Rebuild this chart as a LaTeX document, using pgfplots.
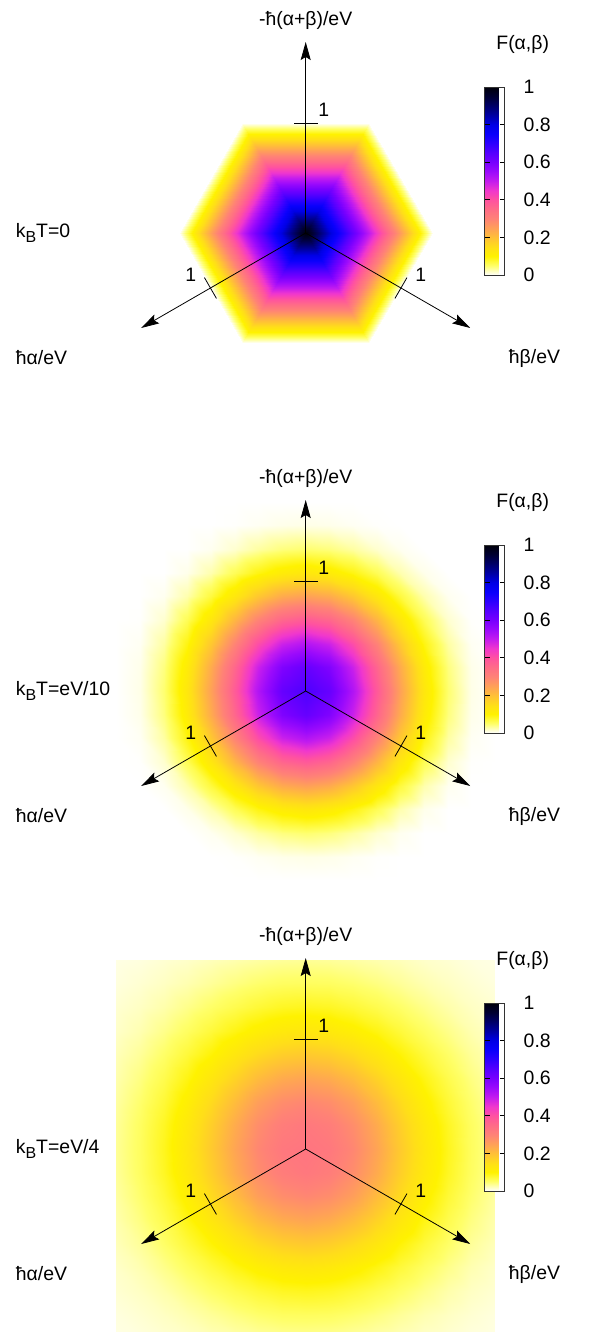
\documentclass[border=0pt]{standalone}
\usepackage{fontspec}
\setmainfont{Liberation Sans}
\usepackage{pgfplots}
\pgfplotsset{compat=1.18}
\usepackage{pgfplotstable}
\usetikzlibrary{arrows.meta}

\pgfplotsset{colormap={fab}{
rgb255=(255,255,255)
rgb255=(255,255,105)
rgb255=(255,242,0)
rgb255=(255,222,25)
rgb255=(255,192,55)
rgb255=(255,160,88)
rgb255=(255,130,118)
rgb255=(255,108,135)
rgb255=(255,82,160)
rgb255=(240,55,205)
rgb255=(195,28,238)
rgb255=(155,10,252)
rgb255=(120,0,255)
rgb255=(85,0,255)
rgb255=(45,0,255)
rgb255=(10,0,252)
rgb255=(0,0,230)
rgb255=(0,0,165)
rgb255=(0,0,105)
rgb255=(0,0,50)
rgb255=(0,0,10)
}}

% grid in units of 0.215 eV; f2: k_BT=eV/10, f3: k_BT=eV/4
\pgfplotstableread{
i j f2 f3
-8 -8 0 0.009
-7 -8 0 0.011
-6 -8 0 0.015
-5 -8 0 0.018
-4 -8 0 0.023
-3 -8 0 0.027
-2 -8 0 0.031
-1 -8 0 0.034
0 -8 0 0.035
1 -8 0 0.034
2 -8 0 0.031
3 -8 0 0.027
4 -8 0 0.023
5 -8 0 0.018
6 -8 0 0.015
7 -8 0 0.011
8 -8 0 0.009
-8 -7 0 0.011
-7 -7 0 0.015
-6 -7 0 0.020
-5 -7 0 0.026
-4 -7 0 0.034
-3 -7 0.001 0.042
-2 -7 0.004 0.049
-1 -7 0.007 0.054
0 -7 0.008 0.055
1 -7 0.007 0.054
2 -7 0.004 0.049
3 -7 0.001 0.042
4 -7 0 0.034
5 -7 0 0.026
6 -7 0 0.020
7 -7 0 0.015
8 -7 0 0.011
-8 -6 0 0.015
-7 -6 0 0.020
-6 -6 0 0.028
-5 -6 0 0.039
-4 -6 0.005 0.051
-3 -6 0.016 0.063
-2 -6 0.031 0.074
-1 -6 0.043 0.083
0 -6 0.048 0.086
1 -6 0.043 0.083
2 -6 0.031 0.074
3 -6 0.016 0.063
4 -6 0.005 0.051
5 -6 0 0.039
6 -6 0 0.028
7 -6 0 0.020
8 -6 0 0.015
-8 -5 0 0.018
-7 -5 0 0.026
-6 -5 0 0.039
-5 -5 0.007 0.054
-4 -5 0.027 0.072
-3 -5 0.059 0.091
-2 -5 0.092 0.109
-1 -5 0.117 0.123
0 -5 0.128 0.128
1 -5 0.117 0.123
2 -5 0.092 0.109
3 -5 0.059 0.091
4 -5 0.027 0.072
5 -5 0.007 0.054
6 -5 0 0.039
7 -5 0 0.026
8 -5 0 0.018
-8 -4 0 0.023
-7 -4 0 0.034
-6 -4 0.005 0.051
-5 -4 0.027 0.072
-4 -4 0.070 0.097
-3 -4 0.128 0.128
-2 -4 0.188 0.156
-1 -4 0.233 0.176
0 -4 0.249 0.184
1 -4 0.233 0.176
2 -4 0.188 0.156
3 -4 0.128 0.128
4 -4 0.070 0.097
5 -4 0.027 0.072
6 -4 0.005 0.051
7 -4 0 0.034
8 -4 0 0.023
-8 -3 0 0.027
-7 -3 0.001 0.042
-6 -3 0.016 0.063
-5 -3 0.059 0.091
-4 -3 0.128 0.128
-3 -3 0.218 0.169
-2 -3 0.301 0.207
-1 -3 0.363 0.233
0 -3 0.386 0.243
1 -3 0.363 0.233
2 -3 0.301 0.207
3 -3 0.218 0.169
4 -3 0.128 0.128
5 -3 0.059 0.091
6 -3 0.016 0.063
7 -3 0.001 0.042
8 -3 0 0.027
-8 -2 0 0.031
-7 -2 0.004 0.049
-6 -2 0.031 0.074
-5 -2 0.092 0.109
-4 -2 0.188 0.156
-3 -2 0.301 0.207
-2 -2 0.410 0.253
-1 -2 0.491 0.282
0 -2 0.522 0.293
1 -2 0.491 0.282
2 -2 0.410 0.253
3 -2 0.301 0.207
4 -2 0.188 0.156
5 -2 0.092 0.109
6 -2 0.031 0.074
7 -2 0.004 0.049
8 -2 0 0.031
-8 -1 0 0.034
-7 -1 0.007 0.054
-6 -1 0.043 0.083
-5 -1 0.117 0.123
-4 -1 0.233 0.176
-3 -1 0.363 0.233
-2 -1 0.491 0.282
-1 -1 0.588 0.312
0 -1 0.626 0.323
1 -1 0.588 0.312
2 -1 0.491 0.282
3 -1 0.363 0.233
4 -1 0.233 0.176
5 -1 0.117 0.123
6 -1 0.043 0.083
7 -1 0.007 0.054
8 -1 0 0.034
-8 0 0 0.035
-7 0 0.008 0.055
-6 0 0.048 0.086
-5 0 0.128 0.128
-4 0 0.249 0.184
-3 0 0.386 0.243
-2 0 0.522 0.293
-1 0 0.626 0.323
0 0 0.660 0.330
1 0 0.626 0.323
2 0 0.522 0.293
3 0 0.386 0.243
4 0 0.249 0.184
5 0 0.128 0.128
6 0 0.048 0.086
7 0 0.008 0.055
8 0 0 0.035
-8 1 0 0.034
-7 1 0.007 0.054
-6 1 0.043 0.083
-5 1 0.117 0.123
-4 1 0.233 0.176
-3 1 0.363 0.233
-2 1 0.491 0.282
-1 1 0.588 0.312
0 1 0.626 0.323
1 1 0.588 0.312
2 1 0.491 0.282
3 1 0.363 0.233
4 1 0.233 0.176
5 1 0.117 0.123
6 1 0.043 0.083
7 1 0.007 0.054
8 1 0 0.034
-8 2 0 0.031
-7 2 0.004 0.049
-6 2 0.031 0.074
-5 2 0.092 0.109
-4 2 0.188 0.156
-3 2 0.301 0.207
-2 2 0.410 0.253
-1 2 0.491 0.282
0 2 0.522 0.293
1 2 0.491 0.282
2 2 0.410 0.253
3 2 0.301 0.207
4 2 0.188 0.156
5 2 0.092 0.109
6 2 0.031 0.074
7 2 0.004 0.049
8 2 0 0.031
-8 3 0 0.027
-7 3 0.001 0.042
-6 3 0.016 0.063
-5 3 0.059 0.091
-4 3 0.128 0.128
-3 3 0.218 0.169
-2 3 0.301 0.207
-1 3 0.363 0.233
0 3 0.386 0.243
1 3 0.363 0.233
2 3 0.301 0.207
3 3 0.218 0.169
4 3 0.128 0.128
5 3 0.059 0.091
6 3 0.016 0.063
7 3 0.001 0.042
8 3 0 0.027
-8 4 0 0.023
-7 4 0 0.034
-6 4 0.005 0.051
-5 4 0.027 0.072
-4 4 0.070 0.097
-3 4 0.128 0.128
-2 4 0.188 0.156
-1 4 0.233 0.176
0 4 0.249 0.184
1 4 0.233 0.176
2 4 0.188 0.156
3 4 0.128 0.128
4 4 0.070 0.097
5 4 0.027 0.072
6 4 0.005 0.051
7 4 0 0.034
8 4 0 0.023
-8 5 0 0.018
-7 5 0 0.026
-6 5 0 0.039
-5 5 0.007 0.054
-4 5 0.027 0.072
-3 5 0.059 0.091
-2 5 0.092 0.109
-1 5 0.117 0.123
0 5 0.128 0.128
1 5 0.117 0.123
2 5 0.092 0.109
3 5 0.059 0.091
4 5 0.027 0.072
5 5 0.007 0.054
6 5 0 0.039
7 5 0 0.026
8 5 0 0.018
-8 6 0 0.015
-7 6 0 0.020
-6 6 0 0.028
-5 6 0 0.039
-4 6 0.005 0.051
-3 6 0.016 0.063
-2 6 0.031 0.074
-1 6 0.043 0.083
0 6 0.048 0.086
1 6 0.043 0.083
2 6 0.031 0.074
3 6 0.016 0.063
4 6 0.005 0.051
5 6 0 0.039
6 6 0 0.028
7 6 0 0.020
8 6 0 0.015
-8 7 0 0.011
-7 7 0 0.015
-6 7 0 0.020
-5 7 0 0.026
-4 7 0 0.034
-3 7 0.001 0.042
-2 7 0.004 0.049
-1 7 0.007 0.054
0 7 0.008 0.055
1 7 0.007 0.054
2 7 0.004 0.049
3 7 0.001 0.042
4 7 0 0.034
5 7 0 0.026
6 7 0 0.020
7 7 0 0.015
8 7 0 0.011
-8 8 0 0.009
-7 8 0 0.011
-6 8 0 0.015
-5 8 0 0.018
-4 8 0 0.023
-3 8 0 0.027
-2 8 0 0.031
-1 8 0 0.034
0 8 0 0.035
1 8 0 0.034
2 8 0 0.031
3 8 0 0.027
4 8 0 0.023
5 8 0 0.018
6 8 0 0.015
7 8 0 0.011
8 8 0 0.009
}\gridtab

\newcommand{\fnt}{\fontsize{19.5}{23}\selectfont}

\pgfplotsset{panel/.style={
  hide axis, anchor=north west,
  x=23.65bp, y=23.65bp,
  xmin=-12.926, xmax=12.233, ymin=-9.514, ymax=9.852,
  enlargelimits=false,
  colormap name=fab, point meta min=0, point meta max=1,
  colorbar,
  colorbar style={
    at={(parent axis.north west)},
    anchor=north west, xshift=476bp, yshift=-87bp,
    scale only axis, width=20bp, height=188bp,
    ytick={0,0.2,0.4,0.6,0.8,1},
    ytick pos=both, yticklabel pos=right,
    tick align=inside, major tick length=5bp,
    tick style={black, line width=0.8bp},
    axis line style={black!80, line width=0.8bp},
    yticklabel style={font=\fnt, inner sep=0pt, anchor=west, xshift=19bp},
    /pgf/number format/assume math mode=true,
  },
}}

\newcommand{\decor}[2]{%
\begin{scope}[shift={(305.7bp,#1)}, every node/.style={inner sep=0pt}]
 \draw[line width=0.8bp, -{Stealth[length=18bp,width=10bp,inset=3bp]}] (0,0) -- (0,191bp);
 \draw[line width=0.8bp, -{Stealth[length=18bp,width=10bp,inset=3bp]}] (0,0) -- (210:190bp);
 \draw[line width=0.8bp, -{Stealth[length=18bp,width=10bp,inset=3bp]}] (0,0) -- (-30:190bp);
 \foreach \a in {90,210,-30} \draw[line width=0.8bp, rotate=\a] (110bp,-12bp) -- (110bp,12bp);
 \node at (18bp,123bp) {1};
 \node at (-115bp,-42bp) {1};
 \node at (115bp,-42bp) {1};
 \node at (0,213bp) {-ħ(α+β)/eV};
 \node[anchor=west] at (-290bp,0) {#2};
 \node[anchor=west] at (-290bp,-125bp) {ħα/eV};
 \node[anchor=west] at (203bp,-125bp) {ħβ/eV};
 \node at (217bp,189bp) {F(α,β)};
\end{scope}}

\newcommand{\kB}{k\raisebox{-5bp}{\fontsize{16}{16}\selectfont B}T}

\begin{document}
\begin{tikzpicture}[font=\fnt]
% panel 1: k_BT = 0
\begin{axis}[panel, at={(0bp,0bp)}]
\addplot[patch, shader=interp, point meta=explicit] coordinates {
(0,0) [1] (5.371,0) [0] (2.686,4.651) [0]
(0,0) [1] (2.686,4.651) [0] (-2.686,4.651) [0]
(0,0) [1] (-2.686,4.651) [0] (-5.371,0) [0]
(0,0) [1] (-5.371,0) [0] (-2.686,-4.651) [0]
(0,0) [1] (-2.686,-4.651) [0] (2.686,-4.651) [0]
(0,0) [1] (2.686,-4.651) [0] (5.371,0) [0]
};
\end{axis}
\decor{-233bp}{\kB=0}

% panel 2: k_BT = eV/10
\begin{axis}[panel, at={(0bp,-458bp)}]
\addplot[surf, shader=interp, mesh/cols=17, point meta=explicit]
  table[x=i, y=j, meta=f2] {\gridtab};
\end{axis}
\decor{-691bp}{\kB=eV/10}

% panel 3: k_BT = eV/4
\begin{axis}[panel, at={(0bp,-916bp)}]
\addplot[surf, shader=interp, mesh/cols=17, point meta=explicit]
  table[x=i, y=j, meta=f3] {\gridtab};
\end{axis}
\decor{-1149bp}{\kB=eV/4}

\pgfresetboundingbox
\useasboundingbox (0bp,0bp) rectangle (595bp,-1332bp);
\end{tikzpicture}
\end{document}
